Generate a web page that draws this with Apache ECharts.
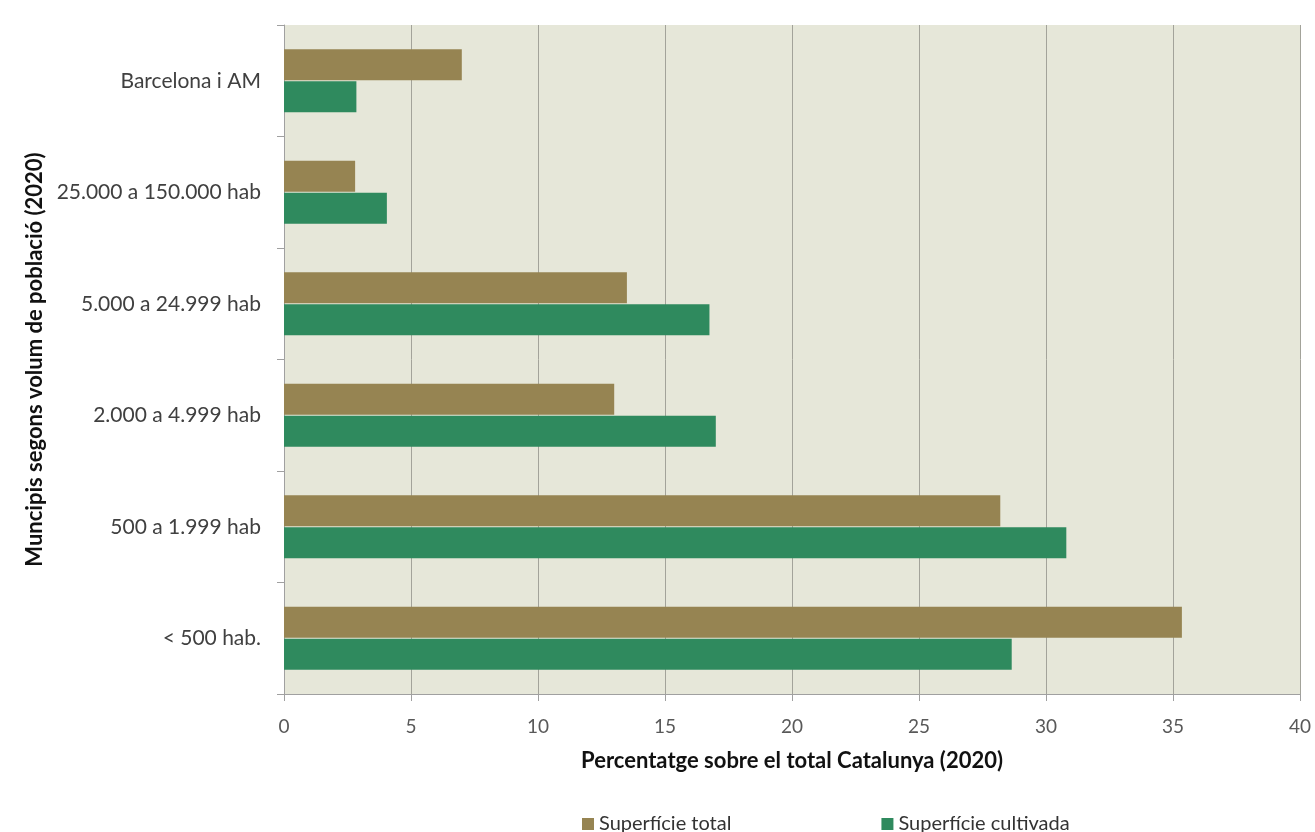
<!DOCTYPE html>
<html>
<head>
<meta charset="utf-8">
<script src="https://cdn.jsdelivr.net/npm/echarts@6/dist/echarts.min.js"></script>
<style>html,body{margin:0;padding:0;background:#fff;}#c{width:1315px;height:832px;}</style>
</head>
<body>
<div id="c"></div>
<script>
const categories = ["Barcelona i AM", "25.000 a 150.000 hab", "5.000 a 24.999 hab", "2.000 a 4.999 hab", "500 a 1.999 hab", "< 500 hab."];
const superficieTotal = [7.0, 2.8, 13.5, 13.0, 28.2, 35.35];
const superficieCultivada = [2.85, 4.05, 16.75, 17.0, 30.8, 28.65];
const seriesNames = ["Superfície total", "Superfície cultivada"];
const xTicks = {min: 0, max: 40, interval: 5};

const chart = echarts.init(document.getElementById('c'));
const font = "Lato, 'Open Sans', sans-serif";
chart.setOption({
  animation: false,
  textStyle: {fontFamily: font},
  grid: {left: 284, right: 15, top: 25, bottom: 138, show: true, backgroundColor: '#e6e7d9', borderWidth: 0},
  legend: {
    top: 809, left: 577, itemWidth: 12, itemHeight: 12, itemGap: 150, icon: 'rect',
    textStyle: {fontSize: 20, color: '#333', fontFamily: font},
    data: seriesNames
  },
  xAxis: {
    type: 'value', min: xTicks.min, max: xTicks.max, interval: xTicks.interval,
    name: 'Percentatge sobre el total Catalunya (2020)', nameLocation: 'middle', nameGap: 56,
    nameTextStyle: {fontSize: 22, fontWeight: 'bold', color: '#111', fontFamily: font},
    axisLine: {show: true, lineStyle: {color: '#a0a0a0', width: 1}},
    axisTick: {show: true, length: 7, lineStyle: {color: '#a0a0a0'}},
    axisLabel: {fontSize: 19, color: '#595959', margin: 23},
    splitLine: {show: true, lineStyle: {color: '#a3a39a', width: 1}}
  },
  yAxis: {
    type: 'category', data: categories, inverse: true,
    name: 'Muncipis segons volum de població (2020)', nameLocation: 'middle', nameGap: 237, nameRotate: 90,
    nameTextStyle: {fontSize: 22, fontWeight: 'bold', color: '#111', fontFamily: font},
    axisLine: {show: true, lineStyle: {color: '#a0a0a0', width: 1}},
    axisTick: {show: true, length: 7, lineStyle: {color: '#a0a0a0'}},
    axisLabel: {fontSize: 21, color: '#404040', margin: 23},
    splitLine: {show: false}
  },
  series: [
    {name: seriesNames[0], type: 'bar', data: superficieTotal, barWidth: 31, barGap: '4%', itemStyle: {color: '#968452'}},
    {name: seriesNames[1], type: 'bar', data: superficieCultivada, barWidth: 31, barGap: '4%', itemStyle: {color: '#2f8a5e'}}
  ]
});
</script>
</body>
</html>
